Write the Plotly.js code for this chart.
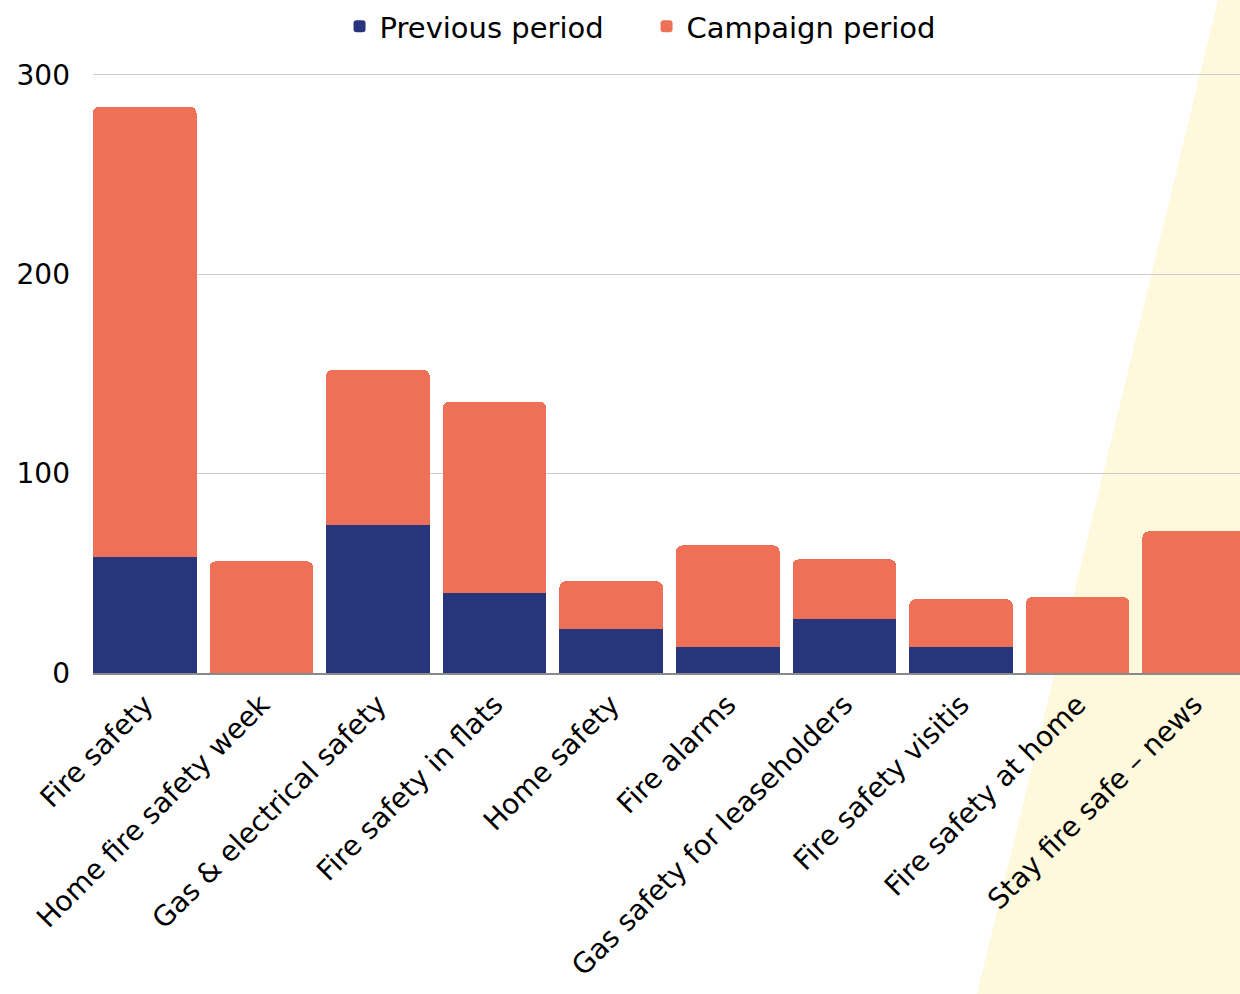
<!DOCTYPE html>
<html>
<head>
<meta charset="utf-8">
<script src="https://cdn.plot.ly/plotly-3.0.1.min.js"></script>
<style>
  html, body { margin: 0; padding: 0; background: #ffffff; overflow: hidden; }
  #wrap { position: relative; width: 1240px; height: 994px; }
  #band {
    position: absolute; left: 0; top: 0; width: 1240px; height: 994px;
    background: #FEF8DC;
    clip-path: polygon(1218px 0px, 1240px 0px, 1240px 994px, 977px 994px);
  }
  #chart { position: absolute; left: 0; top: 0; width: 1240px; height: 994px; }
</style>
</head>
<body>
<div id="wrap">
  <div id="band"></div>
  <div id="chart"></div>
</div>
<script>
const categories = [
  "Fire safety",
  "Home fire safety week",
  "Gas & electrical safety",
  "Fire safety in flats",
  "Home safety",
  "Fire alarms",
  "Gas safety for leaseholders",
  "Fire safety visitis",
  "Fire safety at home",
  "Stay fire safe – news"
];
const previousPeriod = [58, 0, 74, 40, 22, 13, 27, 13, 0, 0];
const campaignPeriod = [226, 56, 78, 96, 24, 51, 30, 24, 38, 71];
const yTicks = [0, 100, 200, 300];

const FONT = "'DejaVu Sans', sans-serif";

const traces = [
  {
    type: "bar",
    name: "Previous period",
    x: categories,
    y: previousPeriod,
    marker: { color: "#27357C", line: { width: 0 } },
    hoverinfo: "x+y+name"
  },
  {
    type: "bar",
    name: "Campaign period",
    x: categories,
    y: campaignPeriod,
    marker: { color: "#EE7057", line: { width: 0 } },
    hoverinfo: "x+y+name"
  }
];

const layout = {
  width: 1240,
  height: 994,
  margin: { l: 93, r: 0, t: 73, b: 321 },
  paper_bgcolor: "rgba(0,0,0,0)",
  plot_bgcolor: "rgba(0,0,0,0)",
  barmode: "stack",
  bargap: 0.112,
  barcornerradius: 6,
  font: { family: FONT, size: 28, color: "#000000" },
  showlegend: true,
  legend: {
    orientation: "h",
    x: 0.4826,
    xanchor: "center",
    y: 1.12,
    yanchor: "top",
    font: { family: FONT, size: 29, color: "#000000" },
    traceorder: "normal",
    itemwidth: 30,
    entrywidth: 262,
    bgcolor: "rgba(0,0,0,0)"
  },
  xaxis: {
    type: "category",
    range: [-0.444, 9.393],
    tickangle: -45,
    tickfont: { family: FONT, size: 28, color: "#000000" },
    showgrid: false,
    showline: true,
    linecolor: "#8a8a8a",
    linewidth: 2,
    ticks: "",
    ticklabelstandoff: 2,
    fixedrange: true
  },
  yaxis: {
    range: [0, 301],
    tickvals: yTicks,
    ticktext: yTicks.map(String),
    tickfont: { family: FONT, size: 28, color: "#000000" },
    showgrid: true,
    gridcolor: "#cccccc",
    gridwidth: 1,
    zeroline: false,
    showline: false,
    ticks: "",
    ticklabelstandoff: 22,
    fixedrange: true
  }
};

Plotly.newPlot("chart", traces, layout, { displayModeBar: false, staticPlot: true });
</script>
</body>
</html>
